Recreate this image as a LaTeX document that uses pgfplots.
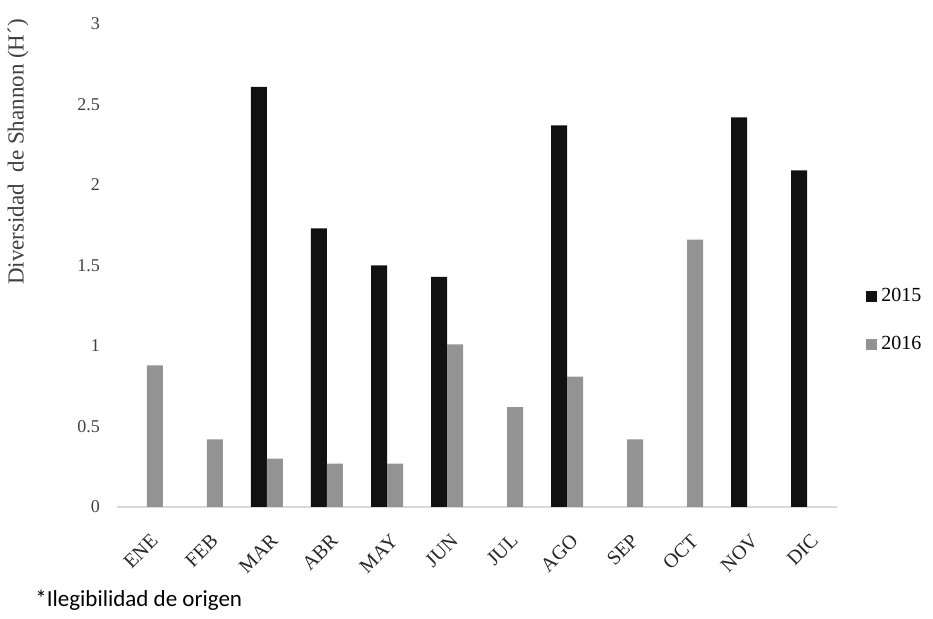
\documentclass[border=0pt]{standalone}
\usepackage{fontspec}
\setmainfont{Liberation Serif}
\newfontfamily\carlito{Carlito}
\usepackage{pgfplots}
\pgfplotsset{compat=1.18}
\definecolor{barblack}{HTML}{111111}
\definecolor{bargray}{HTML}{939393}
\definecolor{axisgray}{HTML}{D9D9D9}
\definecolor{labelgray}{HTML}{404040}

\begin{document}
\begin{tikzpicture}
\begin{axis}[
    at={(58.5pt,56pt)}, anchor=south west,
    scale only axis,
    width=360pt, height=241.5pt,
    ybar=0pt, bar width=8pt,
    xmin=-0.5, xmax=11.5, ymin=0, ymax=3,
    enlargelimits=false,
    xtick={0,...,11},
    xticklabels={ENE,FEB,MAR,ABR,MAY,JUN,JUL,AGO,SEP,OCT,NOV,DIC},
    ytick={0,0.5,1,1.5,2,2.5,3},
    axis lines*=left,
    y axis line style={draw=none},
    x axis line style={axisgray, line width=0.8pt, -},
    major tick length=0pt,
    /pgf/number format/assume math mode=true,
    tick label style={font=\fontsize{9}{10}\selectfont, text=labelgray},
    yticklabel style={xshift=-5pt},
    xticklabel style={rotate=45, anchor=north east, inner sep=0pt, xshift=-8pt, yshift=-10pt,
        font=\fontsize{10}{11}\selectfont, text=black!85},
    ylabel={Diversidad\ \ de Shannon (H´)},
    every axis y label/.style={at={(axis description cs:-0.1375,0.735)}, rotate=90, anchor=center,
        font=\fontsize{11.5}{13}\selectfont, text=labelgray},
    legend style={at={(rel axis cs:1,0.386)}, anchor=west, xshift=14.5pt, draw=none, fill=none,
        font=\fontsize{10}{12}\selectfont, row sep=12pt, inner sep=0pt},
    legend cell align=left,
    legend image code/.code={\fill[#1] (0pt,-2.75pt) rectangle (5.5pt,2.75pt);},
]
\addplot[fill=barblack, draw=none] coordinates {
    (2,2.61) (3,1.73) (4,1.50) (5,1.43) (7,2.37) (10,2.42) (11,2.09)
};
\addplot[fill=bargray, draw=none] coordinates {
    (0,0.88) (1,0.42) (2,0.30) (3,0.27) (4,0.27) (5,1.01) (6,0.62) (7,0.81) (8,0.42) (9,1.66)
};
\legend{2015,2016}
\end{axis}
\node[anchor=west, inner sep=0pt, font=\carlito\fontsize{11.5}{13}\selectfont] at (17.5pt,9.5pt) {*Ilegibilidad de origen};
\pgfresetboundingbox
\path (0,0) rectangle (466.5pt,309.5pt);
\end{tikzpicture}
\end{document}
